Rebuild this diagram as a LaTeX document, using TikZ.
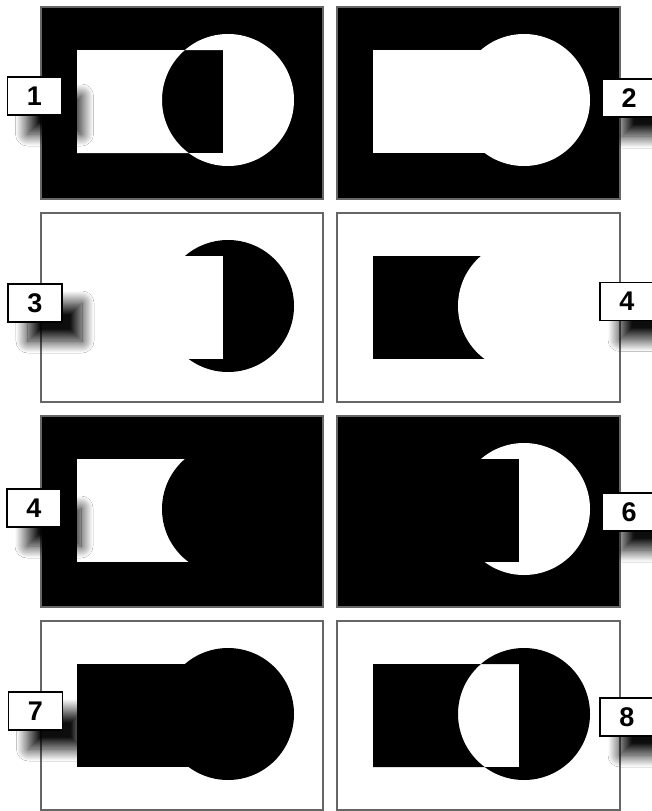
\documentclass[tikz,border=0pt]{standalone}
\usepackage{fontspec}
\setmainfont{Liberation Sans}
\usetikzlibrary{shadows.blur}
\begin{document}
\begin{tikzpicture}[x=1pt,y=-1pt,
  frame/.style={draw=black!60, line width=1.3pt},
  lbl/.style={draw=black, line width=1.8pt, fill=white, minimum width=54pt,
    minimum height=38pt, inner sep=0pt,
    font=\bfseries\fontsize{27}{27}\selectfont,
    blur shadow={shadow xshift=20pt, shadow yshift=-19pt, shadow blur radius=12pt,
      shadow blur steps=24, shadow opacity=95}}]
\useasboundingbox (0,0) rectangle (652,811);
\fill[white] (0,0) rectangle (652,811);
\def\R{(36,43) rectangle (182,146)}
\def\C{(187,93) circle[radius=66pt]}
% panel 1: XOR white on black
\begin{scope}[shift={(41,7)}]
  \fill[black] (0,0) rectangle (282,192);
  \fill[white,even odd rule] \R \C;
  \draw[frame] (0,0) rectangle (282,192);
\end{scope}
% panel 2: union white on black
\begin{scope}[shift={(337,7)}]
  \fill[black] (0,0) rectangle (283,192);
  \fill[white] \R; \fill[white] \C;
  \draw[frame] (0,0) rectangle (283,192);
\end{scope}
% panel 3: circle minus rect, black on white
\begin{scope}[shift={(41,213)}]
  \fill[white] (0,0) rectangle (282,189);
  \fill[black] \C; \fill[white] \R;
  \draw[frame] (0,0) rectangle (282,189);
\end{scope}
% panel 4: rect minus circle, black on white
\begin{scope}[shift={(337,213)}]
  \fill[white] (0,0) rectangle (283,189);
  \fill[black] \R; \fill[white] \C;
  \draw[frame] (0,0) rectangle (283,189);
\end{scope}
% panel 4 (row 3): rect minus circle, white on black
\begin{scope}[shift={(41,416)}]
  \fill[black] (0,0) rectangle (282,191);
  \fill[white] \R; \fill[black] \C;
  \draw[frame] (0,0) rectangle (282,191);
\end{scope}
% panel 6: circle minus rect, white on black
\begin{scope}[shift={(337,416)}]
  \fill[black] (0,0) rectangle (283,191);
  \fill[white] \C; \fill[black] \R;
  \draw[frame] (0,0) rectangle (283,191);
\end{scope}
% panel 7: union black on white
\begin{scope}[shift={(41,621)}]
  \fill[white] (0,0) rectangle (282,189);
  \fill[black] \R; \fill[black] \C;
  \draw[frame] (0,0) rectangle (282,189);
\end{scope}
% panel 8: XOR black on white
\begin{scope}[shift={(337,621)}]
  \fill[white] (0,0) rectangle (283,189);
  \fill[black,even odd rule] \R \C;
  \draw[frame] (0,0) rectangle (283,189);
\end{scope}
% labels
\node[lbl] (l1) at (34.5,96) {1};
\node[lbl] (l2) at (629,98) {2};
\node[lbl] (l3) at (35,303) {3};
\node[lbl] (l4a) at (627,301.5) {4};
\node[lbl] (l4b) at (34,508) {4};
\node[lbl] (l6) at (629,512) {6};
\node[lbl] (l7) at (35.5,711) {7};
\node[lbl] (l8) at (627,717) {8};
\end{tikzpicture}
\end{document}
